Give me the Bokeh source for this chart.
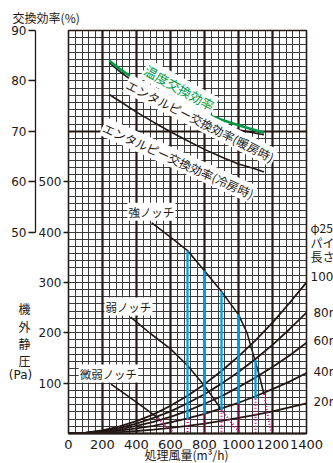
from bokeh.plotting import figure
from bokeh.models import Range1d, LinearAxis, FixedTicker, SingleIntervalTicker, Grid, Label
from bokeh.core.properties import value
from bokeh.embed import file_html
from bokeh.resources import INLINE
import math

# ---------------- data ----------------
flow_ticks = [0, 200, 400, 600, 800, 1000, 1200, 1400]
pa_ticks = [100, 200, 300, 400, 500]
eff_ticks = [50, 60, 70, 80, 90]

# exchange efficiency (%) vs airflow (m3/h)
eff_flow = [240, 300, 400, 500, 600, 700, 800, 900, 1000, 1100, 1150]
temp_eff = [84.0, 82.4, 80.1, 78.1, 76.3, 74.8, 73.5, 72.3, 71.2, 70.2, 69.7]
heat_eff = [83.6, 81.9, 79.4, 77.3, 75.5, 73.9, 72.5, 71.3, 70.3, 69.6, 69.3]
cool_eff = [77.3, 76.0, 73.8, 71.8, 69.9, 68.1, 66.4, 64.9, 63.5, 62.5, 61.9]

# duct resistance curves (Pa) for pipe lengths
pipe_flow = [0, 100, 200, 300, 400, 500, 600, 700, 800, 900, 1000, 1100, 1200, 1300, 1400]
pipe_100 = [0, 1.5, 6, 14, 24.5, 38, 55, 75, 98, 124, 153, 185, 220, 259, 300]
pipe_80 = [0, 1.2, 5, 11, 19.5, 31, 44, 60, 78, 99, 122, 148, 176, 207, 240]
pipe_60 = [0, 1, 4, 8, 15, 23, 33, 45, 59, 74, 92, 111, 132, 155, 180]
pipe_40 = [0, 0.6, 2.5, 5.5, 10, 15, 22, 30, 39, 50, 61, 74, 88, 103, 120]
pipe_20 = [0, 0.3, 1.2, 2.8, 5, 7.7, 11, 15, 19.6, 25, 31, 37, 44, 52, 60]
pipe_labels = ["100m", "80m", "60m", "40m", "20m"]

# fan curves (notch settings)
strong_flow = [490, 600, 700, 800, 900, 1000, 1050, 1080, 1120, 1150]
strong_pa = [418, 390, 363, 323, 282, 236, 200, 165, 118, 78]
strong_tail_flow = [1150, 1170, 1190]
strong_tail_pa = [78, 40, 5]
weak_flow = [365, 480, 600, 700, 800, 900]
weak_pa = [231, 199, 168, 135, 95, 47]
weak_tail_flow = [900, 950, 1000]
weak_tail_pa = [47, 25, 5]
fine_flow = [250, 350, 450, 530]
fine_pa = [98, 74, 50, 30]
fine_tail_flow = [530, 560, 600, 620]
fine_tail_pa = [30, 18, 7, 2]

# operating ranges (blue) and drop lines (pink)
blue_flow = [700, 800, 900, 1000, 1100]
blue_top = [363, 323, 282, 236, 146]
blue_bottom = [29, 39, 47, 59, 69]

INK = "#231815"
GREEN = "#009a44"
BLUE = "#00a0e9"
PINK = "#e4007f"
JP = "Noto Sans CJK JP"
NUM = "DejaVu Sans"

p = figure(width=333, height=463, x_range=Range1d(0, 1400), y_range=Range1d(0, 800),
           output_backend="svg", toolbar_location=None,
           min_border_left=68, min_border_right=27, min_border_top=30, min_border_bottom=30)
p.extra_y_ranges = {"eff": Range1d(10, 90)}
p.background_fill_color = "white"
p.border_fill_color = "white"
p.outline_line_color = INK
p.outline_line_width = 1.6

# grid
p.xgrid.ticker = SingleIntervalTicker(interval=40, num_minor_ticks=0)
p.ygrid.ticker = SingleIntervalTicker(interval=100 / 7, num_minor_ticks=0)
for g in (p.xgrid, p.ygrid):
    g.grid_line_color = "#3a3a3a"
    g.grid_line_width = 1
    g.grid_line_alpha = 1
p.add_layout(Grid(dimension=0, ticker=FixedTicker(ticks=flow_ticks), grid_line_color=INK, grid_line_width=2.2))
p.add_layout(Grid(dimension=1, ticker=FixedTicker(ticks=[600]), grid_line_color=INK, grid_line_width=2.2))

# x axis
p.xaxis.ticker = FixedTicker(ticks=flow_ticks)
p.xaxis.axis_line_color = INK
p.xaxis.axis_line_width = 2
p.xaxis.major_tick_line_color = None
p.xaxis.minor_tick_line_color = None
p.xaxis.major_label_standoff = 0
p.xaxis.major_label_text_font = NUM
p.xaxis.major_label_text_font_size = "13px"
p.xaxis.major_label_text_color = INK

# pressure axis (inner left)
p.yaxis.ticker = FixedTicker(ticks=pa_ticks)
p.yaxis.axis_line_color = None
p.yaxis.major_tick_out = 5
p.yaxis.major_tick_in = 0
p.yaxis.major_tick_line_color = INK
p.yaxis.major_tick_line_width = 1.3
p.yaxis.minor_tick_line_color = None
p.yaxis.major_label_standoff = 2
p.yaxis.major_label_text_font = NUM
p.yaxis.major_label_text_font_size = "12px"
p.yaxis.major_label_text_color = INK

# efficiency axis (outer left)
eff_axis = LinearAxis(y_range_name="eff", ticker=FixedTicker(ticks=eff_ticks), bounds=(50, 90))
eff_axis.axis_line_color = INK
eff_axis.axis_line_width = 1.3
eff_axis.major_tick_out = 7
eff_axis.major_tick_in = 0
eff_axis.major_tick_line_color = INK
eff_axis.major_tick_line_width = 1.3
eff_axis.minor_tick_line_color = None
eff_axis.major_label_standoff = 2
eff_axis.major_label_text_font = NUM
eff_axis.major_label_text_font_size = "12px"
eff_axis.major_label_text_color = INK
p.add_layout(eff_axis, "left")

# pipe resistance curves
for ys in (pipe_100, pipe_80, pipe_60, pipe_40, pipe_20):
    p.line(pipe_flow, ys, line_color=INK, line_width=1.8)

# fan curves
p.line(strong_flow, strong_pa, line_color=INK, line_width=1.6)
p.line(weak_flow, weak_pa, line_color=INK, line_width=1.6)
p.line(fine_flow, fine_pa, line_color=INK, line_width=1.6)
for fx, fy in ((strong_tail_flow, strong_tail_pa), (weak_tail_flow, weak_tail_pa), (fine_tail_flow, fine_tail_pa)):
    p.line(fx, fy, line_color=PINK, line_width=2, line_dash="1 2")

# pink drop lines and blue ranges
p.segment(x0=blue_flow, y0=blue_bottom, x1=blue_flow, y1=[0] * len(blue_flow),
          line_color=PINK, line_width=2, line_dash="1 2")
p.segment(x0=blue_flow, y0=blue_bottom, x1=blue_flow, y1=blue_top, line_color=BLUE, line_width=2.3)

# efficiency curves
p.line(eff_flow, cool_eff, y_range_name="eff", line_color=INK, line_width=1.6)
p.line(eff_flow, heat_eff, y_range_name="eff", line_color=INK, line_width=1.6)
p.line(eff_flow, temp_eff, y_range_name="eff", line_color=GREEN, line_width=2.6)


def lab(x, y, text, size="12px", color=INK, font=JP, angle=0.0, align="center", bg="white"):
    kw = dict(x=x, y=y, text=text, text_font=font, text_font_size=size, text_color=color,
              angle=math.radians(angle), text_align=align, text_baseline="middle")
    if bg:
        kw.update(background_fill_color=bg, background_fill_alpha=1.0, padding=1)
    p.add_layout(Label(**kw))


# curve labels (inside the plot area)
lab(653, 686, "温度交換効率", size="13px", color=GREEN, angle=-29)
lab(776, 621, "エンタルピー交換効率(暖房時)", angle=-27)
lab(647, 542, "エンタルピー交換効率(冷房時)", angle=-24.5)
lab(488, 440, "強ノッチ", size="11.5px")
lab(353, 252, "弱ノッチ", size="11.5px")
lab(235, 119, "微弱ノッチ", size="11.5px")


def free_text(xs, ys, texts, font=JP, align="center", size="12px"):
    p.text(x=xs, y=ys, text=texts, text_font=value(font), text_font_size=value(size),
           text_color=INK, text_align=align, text_baseline="middle", level="overlay")


# texts outside the plot area (positions in data units of the main ranges)
free_text([-329], [826], ["交換効率(%)"], align="left")
free_text([-259] * 4, [248, 212, 178, 145], ["機", "外", "静", "圧"])
free_text([-282], [117], ["(Pa)"], font=NUM)
free_text([694], [-41], ["処理風量(m³/h)"])
free_text([1423.5] * 3, [408, 380, 351], ["φ25", "パイプ", "長さ"], align="left")
free_text([1423.5, 1441, 1441, 1441, 1441], [310, 240, 184, 122, 62], pipe_labels, font=NUM, align="left")

open("out.html", "w").write(file_html(p, INLINE))
